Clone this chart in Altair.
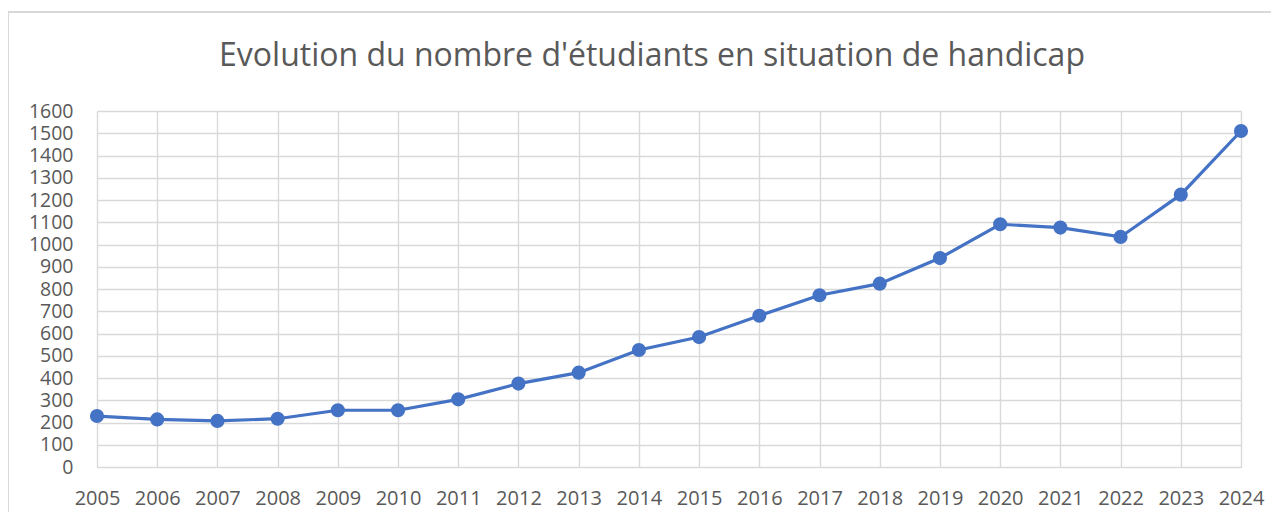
import altair as alt
import pandas as pd

years = [2005, 2006, 2007, 2008, 2009, 2010, 2011, 2012, 2013, 2014,
         2015, 2016, 2017, 2018, 2019, 2020, 2021, 2022, 2023, 2024]
students = [229, 214, 207, 217, 255, 255, 304, 375, 424, 526,
            584, 680, 772, 824, 939, 1091, 1076, 1034, 1224, 1510]
y_ticks = list(range(0, 1700, 100))
title_text = ["Evolution du nombre d'étudiants en situation de handicap"]

df = pd.DataFrame({"annee": years, "etudiants": students})
df_title = pd.DataFrame({"t": title_text})

FONT = "Open Sans"
GREY_TXT = "#595959"
GRID = "#d9d9d9"
BLUE = "#4472C4"

x_enc = alt.X(
    "annee:Q",
    scale=alt.Scale(domain=[2005, 2024], nice=False, zero=False),
    axis=alt.Axis(values=years, format="d", title=None, grid=True, gridColor=GRID,
                  gridWidth=1.4, domain=False, ticks=False, tickSize=0,
                  labelPadding=21, labelFont=FONT, labelFontSize=20,
                  labelColor=GREY_TXT, labelOverlap=False, labelFlush=False,
                  labelBound=False),
)
y_enc = alt.Y(
    "etudiants:Q",
    scale=alt.Scale(domain=[0, 1600], nice=False),
    axis=alt.Axis(values=y_ticks, format="d", title=None, grid=True, gridColor=GRID,
                  gridWidth=1.4, domain=False, ticks=False, tickSize=0, labelPadding=24,
                  labelFont=FONT, labelFontSize=19.5, labelColor=GREY_TXT,
                  labelOverlap=False, labelFlush=False, labelBound=False),
)

base = alt.Chart(df).encode(x=x_enc, y=y_enc)
line = base.mark_line(color=BLUE, strokeWidth=3.2)
pts = base.mark_point(filled=True, color=BLUE, size=200, opacity=1, shape="circle")

title = alt.Chart(df_title).mark_text(
    font=FONT, fontSize=32, color=GREY_TXT, align="center", baseline="alphabetic"
).encode(text="t:N", x=alt.value(555), y=alt.value(-45))

border_top = alt.Chart(df_title).mark_rule(color=GRID, strokeWidth=2, clip=False).encode(
    x=alt.value(-89), x2=alt.value(1200), y=alt.value(-99))
border_left = alt.Chart(df_title).mark_rule(color=GRID, strokeWidth=2, clip=False).encode(
    x=alt.value(-89), y=alt.value(-100), y2=alt.value(420))

chart = alt.layer(border_top, border_left, title, line, pts).properties(
    width=1144,
    height=356,
    padding={"left": 89, "top": 103, "right": 30, "bottom": 45},
    autosize=alt.AutoSizeParams(type="none"),
).configure_view(stroke="transparent").configure(background="white")

chart.save("out.html", embed_options={"renderer": "svg", "actions": False})
